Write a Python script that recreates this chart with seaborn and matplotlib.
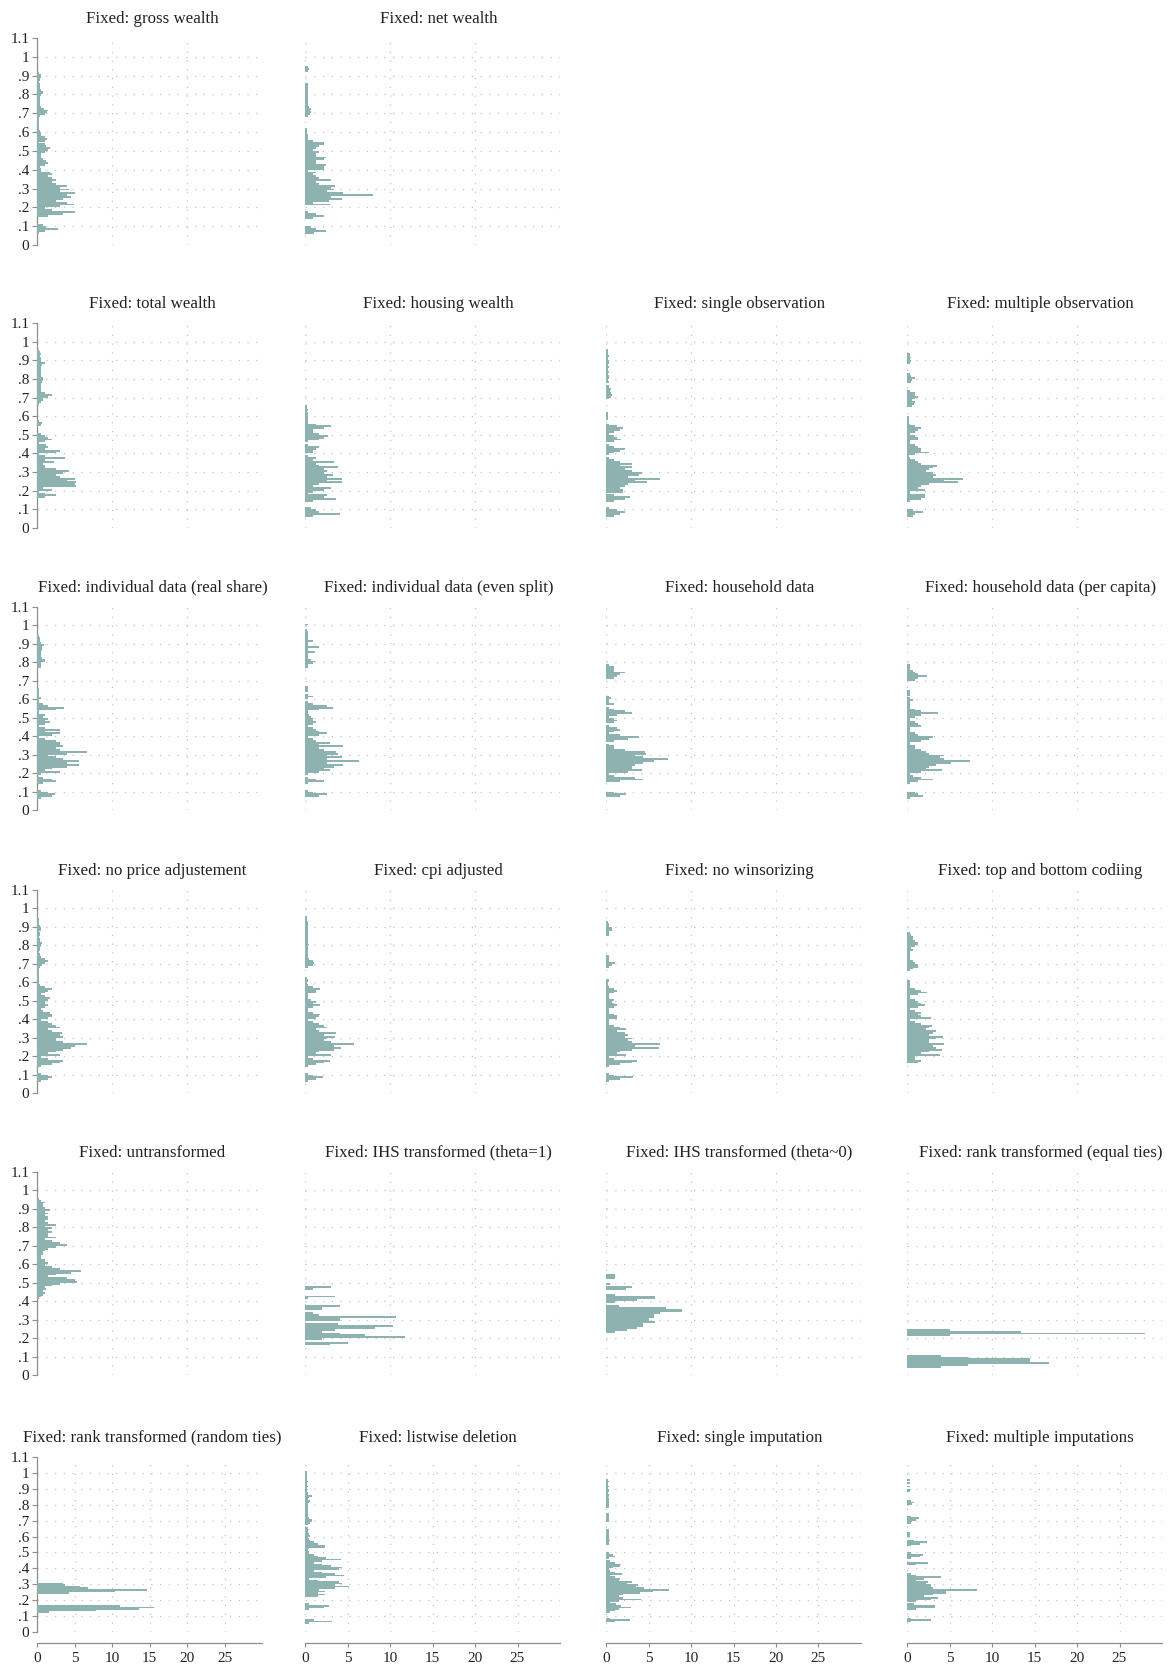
import numpy as np
import pandas as pd
import matplotlib
matplotlib.use("Agg")
import matplotlib.pyplot as plt
import seaborn as sns

# ---------------------------------------------------------------------------
# Histogram heights (density) per 0.01-wide bin of the share.
# Each series is (lower edge of first bin, [heights ...]).
# ---------------------------------------------------------------------------
BIN = 0.01

gross_wealth = (0.06, [
    0.3, 1.0, 2.8, 1.2, 0.8, 0, 0, 0, 0,
    1.5, 3.5, 5.0, 2.0, 1.0, 3.0, 4.9, 4.0, 2.5, 3.5,
    4.5, 4.0, 5.0, 3.0, 4.2, 3.0, 4.0, 2.5, 2.0, 2.5,
    2.0, 1.5, 2.0, 1.8, 0.5, 0.5, 0.4, 1.0, 1.5, 1.2,
    0.8, 0.5, 0.5, 0.5, 1.0, 1.5, 1.8, 1.2, 1.0, 0.3,
    1.0, 1.3, 1.0, 0.5, 0.5, 0.4, 0.3, 0.2, 0.2, 0.2,
    0.2, 0.2, 0.2, 0.4, 1.0, 1.3, 1.4, 0.9, 0.5, 0.4,
    0.4, 0.4, 0.4, 0.4, 0.5, 0.8, 0.8, 0.6, 0.4, 0.4,
    0.4, 0.3, 0.4, 0.4, 0.6, 0.6, 0.3])

net_wealth = (0.06, [
    1.0, 2.5, 1.3, 0.7, 0, 0, 0, 0,
    0.9, 2.2, 1.3, 0.4, 0, 0, 0,
    2.9, 0.9, 2.8, 4.3, 3.0, 8.0, 4.5, 2.6, 3.4, 3.0,
    3.5, 1.7, 1.3, 3.1, 1.7, 1.3, 0.9, 1.3, 0.4, 2.2,
    2.2, 2.5, 1.3, 1.3, 2.2, 2.5, 1.3, 1.3, 1.7, 0.9,
    1.3, 1.7, 2.2, 2.2, 0.9, 0.4, 0.4, 0.4, 0.2, 0.2,
    0.2, 0, 0, 0, 0, 0, 0, 0.4, 0.6, 0.7,
    0.6, 0.7, 0.5, 0.4, 0.3, 0.4, 0.3, 0.3, 0.4, 0.3,
    0.4, 0.3, 0.4, 0.3, 0.3, 0, 0, 0, 0, 0,
    0, 0.4, 0.5, 0.3])

total_wealth = (0.16, [
    1.0, 2.5, 1.0, 0.3, 2.0, 0.8, 5.2, 5.0, 5.2, 4.0,
    5.0, 3.0, 2.5, 3.5, 4.2, 2.5, 1.0, 1.0, 0.8, 2.2,
    1.0, 3.7, 1.0, 0.3, 2.5, 3.0, 1.0, 1.5, 1.2, 0.3,
    1.0, 2.0, 1.5, 1.0, 0.5, 0, 0, 0, 0, 0.6,
    0.7, 0.3, 0, 0, 0, 0, 0, 0, 0, 0,
    0.3, 0.5, 0.8, 0.8, 1.5, 2.0, 1.0, 0.5, 0.5, 0.6,
    0.5, 0.6, 0.7, 0.8, 0.8, 0.6, 0.5, 0.6, 0.5, 0.6,
    0.5, 0.7, 1.0, 0.6, 0.5, 0.5, 0.4, 0.5, 0.4, 0.3])

housing_wealth = (0.06, [
    0.9, 4.1, 1.7, 1.3, 0.7, 0, 0, 0,
    0.9, 3.7, 2.2, 2.6, 0.4, 0.9, 2.2, 3.0, 0.9, 1.7,
    4.4, 2.6, 4.3, 2.6, 3.3, 2.2, 2.6, 2.2, 3.9, 1.7,
    1.3, 3.4, 0.9, 1.3, 0.4, 0, 0.9, 0.9, 1.3, 1.6,
    0.4, 0, 0.4, 1.7, 2.2, 2.7, 1.7, 0.9, 0.9, 2.2,
    3.1, 1.3, 0.4, 0.4, 0.3, 0.3, 0.3, 0.3, 0.2, 0.3,
    0.2, 0.2])

single_observation = (0.06, [
    0.9, 1.7, 2.2, 1.3, 0.4, 0, 0, 0,
    0.9, 2.2, 2.8, 0.9, 0, 2.0, 2.0, 1.7, 2.2, 2.6,
    4.8, 3.4, 6.3, 2.6, 3.9, 4.2, 3.0, 2.2, 3.0, 1.7,
    3.0, 1.7, 0.9, 0.4, 0, 0.4, 0.9, 1.7, 2.2, 0.9,
    0.4, 0, 0.9, 1.8, 1.3, 0.9, 0.4, 0.9, 1.7, 2.0,
    1.3, 0.4, 0, 0, 0.2, 0.2, 0.2, 0.2, 0, 0,
    0, 0, 0, 0, 0, 0.4, 0.6, 0.7, 0.6, 0.5,
    0.6, 0.4, 0.3, 0, 0.3, 0.2, 0.3, 0.3, 0.2, 0.3,
    0.2, 0.2, 0.3, 0.2, 0.3, 0.3, 0.2, 0.2, 0.3, 0.2,
    0.2, 0.2])

multiple_observation = (0.06, [
    0.7, 0.9, 1.9, 0.7, 0, 0, 0, 0,
    0.4, 1.7, 2.1, 2.1, 0.4, 0.4, 2.1, 1.3, 1.7, 2.6,
    6.0, 4.3, 6.6, 3.0, 3.4, 3.0, 2.2, 2.6, 3.0, 3.5,
    1.7, 1.3, 0.9, 0.4, 0.2, 0.9, 2.6, 1.7, 1.7, 1.3,
    0.9, 0.3, 0.4, 1.3, 1.3, 0.9, 0.4, 0.9, 1.3, 1.7,
    0.9, 0.3, 0.2, 0.2, 0.2, 0.2, 0, 0, 0, 0,
    0, 0.6, 0.8, 0.9, 0.6, 0.9, 1.3, 0.9, 0.9, 0.3,
    0, 0, 0, 0, 0.5, 0.6, 0.9, 0.5, 0.3, 0,
    0, 0, 0, 0, 0.4, 0.5, 0.4, 0.5, 0.4, 0.3])

individual_real_share = (0.06, [
    0.5, 2.0, 2.4, 1.5, 0.5, 0, 0, 0,
    0.8, 2.5, 2.0, 0.8, 0, 0.5, 3.0, 1.0, 2.0, 4.0,
    5.6, 4.0, 5.6, 3.5, 2.5, 1.5, 4.0, 6.6, 3.0, 2.5,
    3.5, 3.0, 3.0, 2.5, 1.0, 0.3, 2.0, 3.0, 1.0, 3.0,
    1.0, 0.3, 1.0, 1.8, 1.0, 1.5, 0.8, 1.0, 0.3, 0.3,
    2.5, 3.6, 1.5, 0.8, 0.3, 0.3, 0.6, 0.3, 0.3, 0.2,
    0.3, 0.2, 0, 0, 0, 0, 0, 0, 0, 0,
    0, 0, 0, 0.5, 0.5, 0.5, 1.0, 1.0, 0.7, 0.5,
    0.5, 0.5, 0.7, 0.7, 0.7, 0.9, 0.5, 0.4, 0.4, 0.4,
    0.3])

individual_even_split = (0.07, [
    1.7, 2.6, 0.9, 0.4, 0, 0, 0,
    0.4, 2.2, 1.3, 0.4, 0, 0.4, 1.7, 2.9, 2.2, 3.4,
    4.5, 2.6, 6.3, 2.6, 4.3, 2.6, 3.9, 3.7, 2.2, 1.7,
    4.5, 1.7, 2.9, 1.3, 0.9, 0.4, 1.7, 2.6, 1.7, 1.3,
    0.9, 0.4, 0.9, 1.3, 0.9, 0.9, 0.7, 0.5, 0.3, 0.4,
    1.7, 3.3, 2.6, 0.9, 0.4, 0, 0.3, 0.9, 0.4, 0,
    0.4, 0.4, 0.4, 0, 0, 0, 0, 0, 0, 0,
    0, 0, 0, 0.3, 0.4, 0.9, 1.2, 0.7, 0.4, 0.3,
    0.4, 1.2, 0.4, 0.3, 1.6, 0.4, 0.3, 0.9, 0.4, 0.3,
    0.4, 0.3, 0.3, 0.2, 0, 0, 0.3])

household_data = (0.07, [
    1.7, 2.4, 0.9, 0, 0, 0, 0, 0,
    1.7, 4.4, 3.4, 0.9, 0.4, 2.6, 4.2, 3.0, 3.0, 3.4,
    4.3, 5.6, 7.3, 4.3, 3.4, 4.7, 4.6, 2.2, 0.9, 0.9,
    0.4, 0, 0.9, 2.6, 3.9, 1.7, 0.4, 0.9, 1.7, 1.3,
    0.4, 0, 0.9, 1.3, 0.9, 0.4, 1.3, 3.0, 2.2, 0.9,
    0.4, 0, 0.9, 0.4, 0.4, 0.6, 0.3, 0, 0, 0,
    0, 0, 0, 0, 0, 0, 0.9, 1.3, 1.7, 2.2,
    0.9, 0.9, 0.9, 0.4])

household_per_capita = (0.06, [
    0.4, 1.9, 1.3, 0.9, 0, 0, 0, 0,
    0.4, 1.3, 3.1, 1.7, 0.7, 0.4, 1.7, 4.1, 2.2, 2.6,
    3.4, 5.2, 7.4, 4.3, 3.9, 4.3, 2.6, 2.2, 1.7, 0.9,
    0.9, 0.4, 0.4, 1.7, 2.6, 3.1, 1.3, 0.9, 0.3, 0.3,
    0.4, 1.7, 1.3, 0.9, 0.4, 0.3, 0.9, 1.7, 3.7, 1.7,
    0.9, 0.4, 0.3, 0.3, 0.4, 0.7, 0.3, 0, 0.4, 0.4,
    0.3, 0, 0, 0, 0, 0, 0.9, 1.3, 2.3, 1.3,
    0.9, 0.7, 0.4, 0.4, 0.3])

no_price_adjustment = (0.06, [
    0.5, 1.5, 2.0, 1.5, 0.5, 0, 0, 0,
    0.5, 2.0, 3.0, 3.4, 1.5, 0.5, 3.0, 1.5, 2.5, 3.5,
    4.5, 5.0, 6.6, 3.5, 2.5, 2.5, 3.5, 3.0, 3.4, 2.0,
    1.5, 3.0, 2.5, 2.0, 1.5, 0.5, 1.5, 2.0, 2.0, 1.8,
    0.8, 0.5, 1.0, 1.5, 1.0, 1.0, 1.5, 1.8, 1.0, 0.5,
    1.0, 1.5, 2.0, 1.0, 0.4, 0.3, 0.3, 0.2, 0.3, 0.2,
    0.3, 0.3, 0.2, 0.3, 0.4, 0.7, 1.0, 1.5, 1.0, 0.5,
    0.4, 0.4, 0.3, 0.4, 0.4, 0.5, 0.6, 0.7, 0.4, 0.4,
    0.3, 0.4, 0.4, 0.3, 0.5, 0.6, 0.4, 0.3, 0.3, 0.3,
    0.2])

cpi_adjusted = (0.06, [
    0.4, 1.3, 2.1, 0.9, 0.4, 0, 0, 0,
    0.4, 1.3, 2.2, 2.9, 0.9, 0.4, 3.0, 1.3, 1.7, 3.4,
    4.2, 3.4, 5.8, 3.0, 2.2, 2.6, 3.5, 2.2, 3.7, 1.7,
    1.3, 2.6, 2.2, 1.7, 0.9, 0.4, 1.3, 1.7, 1.8, 0.9,
    0.4, 0.3, 0.9, 1.8, 0.9, 1.3, 0.7, 0.4, 0.3, 0.4,
    1.3, 1.3, 1.8, 0.9, 0.3, 0.2, 0.3, 0.3, 0.2, 0,
    0, 0, 0, 0, 0.4, 0.9, 1.1, 0.9, 0.5, 0.4,
    0.4, 0.3, 0.4, 0.3, 0.3, 0.4, 0.5, 0.4, 0.3, 0.3,
    0.4, 0.3, 0.3, 0.4, 0.3, 0.3, 0.4, 0.3, 0.3, 0.2,
    0.2, 0.2])

no_winsorizing = (0.06, [
    0.4, 1.7, 3.2, 0.9, 0.4, 0, 0, 0,
    0.4, 1.7, 3.0, 3.6, 0.9, 0.4, 2.4, 1.3, 1.7, 3.0,
    6.2, 3.4, 6.4, 3.0, 2.6, 3.0, 2.2, 2.6, 2.2, 1.3,
    2.4, 1.7, 0.9, 0.4, 0.3, 0.4, 1.3, 1.3, 0.9, 0.4,
    0.3, 0.3, 0.9, 1.3, 0.9, 0.7, 0.9, 0.4, 0.3, 0.4,
    0.9, 1.3, 0.9, 0.4, 0.2, 0.2, 0.3, 0.3, 0, 0,
    0, 0, 0, 0, 0.3, 0.7, 1.1, 0.4, 0.4, 0.3,
    0.3, 0, 0, 0, 0, 0, 0, 0, 0, 0,
    0, 0.3, 0.4, 0.3, 0.7, 0.7, 0.4, 0.3, 0.2])

top_bottom_coding = (0.16, [
    1.3, 1.7, 0.9, 0.9, 3.9, 1.7, 2.6, 4.1, 3.4, 3.0,
    4.3, 2.6, 2.6, 3.4, 4.2, 2.6, 3.0, 3.4, 2.2, 2.6,
    2.9, 1.7, 0.9, 0.4, 2.8, 1.7, 1.3, 1.7, 0.9, 0.4,
    1.3, 2.1, 1.7, 1.3, 0.9, 0.4, 0.4, 1.3, 2.3, 1.7,
    0.9, 0.3, 0.3, 0.3, 0.3, 0, 0, 0, 0, 0,
    0.4, 0.7, 1.3, 1.3, 0.9, 0.7, 0.4, 0.3, 0.3, 0.4,
    0.4, 0.7, 0.5, 0.9, 1.3, 1.3, 0.9, 0.7, 0.7, 0.5,
    0.4])

untransformed = (0.41, [
    0.3, 0.5, 0.8, 1.0, 0.8, 1.2, 1.0, 2.0, 3.0, 5.3,
    5.0, 4.0, 1.5, 2.5, 4.5, 5.9, 3.0, 2.0, 1.0, 1.5,
    1.0, 1.0, 0.5, 0.5, 0.8, 0.8, 1.0, 1.5, 2.5, 4.0,
    3.0, 2.0, 1.0, 2.5, 1.5, 1.5, 2.0, 1.5, 2.0, 1.0,
    2.5, 1.5, 1.0, 1.5, 1.5, 1.0, 1.5, 1.0, 1.8, 1.0,
    0.8, 0.8, 1.0, 0.5, 0.3])

ihs_theta_one = (0.16, [
    2.9, 5.1, 0, 2.0, 11.8, 7.1, 4.1, 2.0, 3.5, 8.2,
    10.4, 3.9, 0, 4.1, 4.1, 10.7, 1.7, 0.9, 0, 2.0,
    2.0, 4.1, 0, 0, 0, 0.4, 3.5, 0, 0, 0,
    0.9, 3.1])

ihs_theta_zero = (0.23, [
    1.1, 2.5, 3.6, 4.4, 4.4, 5.8, 5.0, 5.0, 5.6, 5.6,
    6.4, 8.9, 8.9, 7.1, 1.5, 0, 1.0, 3.6, 5.8, 5.8,
    1.0, 0, 0, 2.4, 3.0, 0, 0.5, 0, 0, 1.1,
    1.1, 1.1])

rank_equal_ties = (0.04, [
    4.0, 7.2, 16.7, 14.5, 14.5, 7.2, 4.0, 0, 0, 0,
    0, 0, 0, 0, 0, 0, 0, 5.0, 28.0, 13.4,
    5.0])

rank_random_ties = (0.12, [
    1.6, 7.8, 13.6, 15.6, 11.0, 0, 0, 0, 0, 0,
    0, 0, 4.2, 10.4, 14.7, 6.8, 5.8, 3.8, 3.5])

listwise_deletion = (0.05, [
    0.5, 3.2, 1.0, 0, 0, 0, 0, 0, 0,
    0.5, 2.2, 2.8, 0.5, 0, 0, 0, 0,
    1.5, 2.4, 1.5, 2.4, 1.7, 3.5, 5.2, 3.5, 4.3, 4.0,
    1.5, 0.5, 2.5, 4.6, 3.5, 2.0, 1.0, 4.0, 4.3, 3.0,
    2.0, 1.0, 2.0, 4.2, 2.5, 1.5, 1.0, 0.5, 0.5, 0.3,
    0.5, 2.3, 2.3, 1.5, 1.0, 0.6, 0.5, 0.4, 0.6, 0.5,
    0.4, 0.3, 0.5, 0.3, 0, 0.4, 0.6, 0.8, 0.8, 0.5,
    0.4, 0.4, 0.4, 0.4, 0.3, 0.4, 0.3, 0.4, 0.3, 0.5,
    0.6, 0.4, 0.5, 0.8, 0.3, 0.3, 0.2, 0.3, 0.2, 0.3,
    0.2, 0.2, 0.3, 0.2, 0.2, 0.2, 0.2, 0.2, 0.2])

single_imputation = (0.06, [
    1.0, 2.8, 0.5, 0, 0, 0, 0.5, 1.0, 1.5, 2.9,
    1.8, 1.2, 0.5, 1.5, 4.1, 2.0, 1.5, 2.0, 4.0, 5.5,
    7.4, 4.5, 3.5, 3.8, 2.5, 3.1, 1.5, 1.7, 1.0, 0.5,
    1.9, 1.0, 0.5, 0.3, 0.8, 1.6, 1.8, 1.0, 0.5, 0,
    0.4, 1.0, 0.8, 0.3, 0, 0, 0, 0, 0, 0.3,
    0.4, 0.5, 0.3, 0.4, 0.3, 0.3, 0.3, 0.4, 0.3, 0,
    0, 0, 0, 0.3, 0.4, 0.4, 0.3, 0.4, 0.3, 0,
    0, 0, 0.3, 0.3, 0.4, 0.3, 0.3, 0.3, 0.2, 0.3,
    0.3, 0.2, 0.3, 0.3, 0.2, 0.3, 0.2, 0.2, 0.3, 0.2])

multiple_imputations = (0.06, [
    0.5, 2.8, 0.5, 0, 0, 0, 0, 0, 1.0, 3.3,
    3.3, 0.8, 0, 1.0, 2.8, 3.6, 2.0, 3.0, 4.6, 4.6,
    8.2, 3.0, 2.8, 2.8, 2.2, 2.5, 1.0, 2.0, 4.0, 1.0,
    0.5, 0, 0, 0, 0, 0, 1.0, 2.5, 0, 0,
    0.5, 1.5, 1.9, 0.5, 0, 0, 0, 0, 0.5, 1.5,
    2.3, 0.8, 0, 0, 0.3, 0.3, 0.3, 0, 0, 0,
    0, 0, 0.5, 0.6, 1.0, 1.4, 0.5, 0, 0, 0,
    0, 0, 0, 0, 0.6, 0.8, 0.5, 0, 0, 0,
    0, 0, 0.4, 0.5, 0, 0.4, 0, 0.3, 0, 0.3])

panel_grid = [
    [("Fixed: gross wealth", gross_wealth),
     ("Fixed: net wealth", net_wealth), None, None],
    [("Fixed: total wealth", total_wealth),
     ("Fixed: housing wealth", housing_wealth),
     ("Fixed: single observation", single_observation),
     ("Fixed: multiple observation", multiple_observation)],
    [("Fixed: individual data (real share)", individual_real_share),
     ("Fixed: individual data (even split)", individual_even_split),
     ("Fixed: household data", household_data),
     ("Fixed: household data (per capita)", household_per_capita)],
    [("Fixed: no price adjustement", no_price_adjustment),
     ("Fixed: cpi adjusted", cpi_adjusted),
     ("Fixed: no winsorizing", no_winsorizing),
     ("Fixed: top and bottom codiing", top_bottom_coding)],
    [("Fixed: untransformed", untransformed),
     ("Fixed: IHS transformed (theta=1)", ihs_theta_one),
     ("Fixed: IHS transformed (theta~0)", ihs_theta_zero),
     ("Fixed: rank transformed (equal ties)", rank_equal_ties)],
    [("Fixed: rank transformed (random ties)", rank_random_ties),
     ("Fixed: listwise deletion", listwise_deletion),
     ("Fixed: single imputation", single_imputation),
     ("Fixed: multiple imputations", multiple_imputations)],
]

y_ticks = [0, 0.1, 0.2, 0.3, 0.4, 0.5, 0.6, 0.7, 0.8, 0.9, 1.0, 1.1]
y_tick_labels = ["0", ".1", ".2", ".3", ".4", ".5", ".6", ".7", ".8", ".9", "1", "1.1"]
x_ticks = [0, 5, 10, 15, 20, 25]

# ---------------------------------------------------------------------------
# Styling
# ---------------------------------------------------------------------------
sns.set_style("white")
plt.rcParams["font.family"] = ["Liberation Serif", "DejaVu Serif"]

BAR = "#8db2af"
GRID = "#c2c2c2"
AXIS = "#8e8e8e"
TEXT = "#222222"

W, H = 1169, 1672
fig = plt.figure(figsize=(W / 100, H / 100), dpi=100)
fig.patch.set_facecolor("white")

# plot-region pixel boxes: x of value 0 / 30, y of value 1.1 / 0
col_x = [(37, 262), (305, 560), (606, 861), (907, 1162)]
row_y = [(38, 245), (323, 528), (607, 810), (890, 1093), (1172, 1375), (1457, 1632)]

bin_edges = [round(i * BIN, 2) for i in range(111)]

for r, row in enumerate(panel_grid):
    for c, cell in enumerate(row):
        if cell is None:
            continue
        title, (start, heights) = cell
        x0, x1 = col_x[c]
        yt, yb = row_y[r]
        ax = fig.add_axes([x0 / W, 1 - yb / H, (x1 - x0) / W, (yb - yt) / H])
        ax.set_facecolor("none")

        centers = np.round(start + BIN * np.arange(len(heights)) + BIN / 2, 4)
        df = pd.DataFrame({"share": centers, "density": heights})
        sns.histplot(data=df, y="share", weights="density", bins=bin_edges, ax=ax,
                     color=BAR, alpha=1, linewidth=0, zorder=3)

        ax.set_xlim(0, 30)
        ax.set_ylim(0, 1.1)
        ax.set_xlabel("")
        ax.set_ylabel("")

        bottom_row = r == len(panel_grid) - 1
        gx = np.arange(0, 31, 5) if bottom_row else np.arange(0, 31, 10)
        ax.hlines(np.arange(0, 1.001, 0.1), 0, 30, colors=GRID, linewidth=0.9,
                  linestyles=(0, (1, 6)), zorder=1)
        ax.vlines(gx, 0, 1.1, colors=GRID, linewidth=0.9,
                  linestyles=(0, (1, 6)), zorder=1)

        for side in ("top", "right"):
            ax.spines[side].set_visible(False)

        if c == 0:
            ax.spines["left"].set_color(AXIS)
            ax.spines["left"].set_linewidth(0.9)
            ax.set_yticks(y_ticks)
            ax.set_yticklabels(y_tick_labels)
            ax.tick_params(axis="y", left=True, length=3.6, width=0.8, color=AXIS,
                           pad=2, labelsize=11, labelcolor=TEXT)
        else:
            ax.spines["left"].set_visible(False)
            ax.tick_params(axis="y", left=False, labelleft=False)

        if bottom_row:
            ax.spines["bottom"].set_position(("outward", 8))
            ax.spines["bottom"].set_bounds(0, 30)
            ax.spines["bottom"].set_color(AXIS)
            ax.spines["bottom"].set_linewidth(0.9)
            ax.set_xticks(x_ticks)
            ax.set_xticklabels([str(t) for t in x_ticks])
            ax.tick_params(axis="x", bottom=True, length=3.1, width=0.8, color=AXIS,
                           pad=3.5, labelsize=11, labelcolor=TEXT)
        else:
            ax.spines["bottom"].set_visible(False)
            ax.tick_params(axis="x", bottom=False, labelbottom=False)

        tx = 0.513 if c == 0 else 0.523
        ax.set_title(title, fontsize=12.2, color=TEXT, pad=11, x=tx)

fig.savefig("out.png", dpi=100, facecolor="white")
